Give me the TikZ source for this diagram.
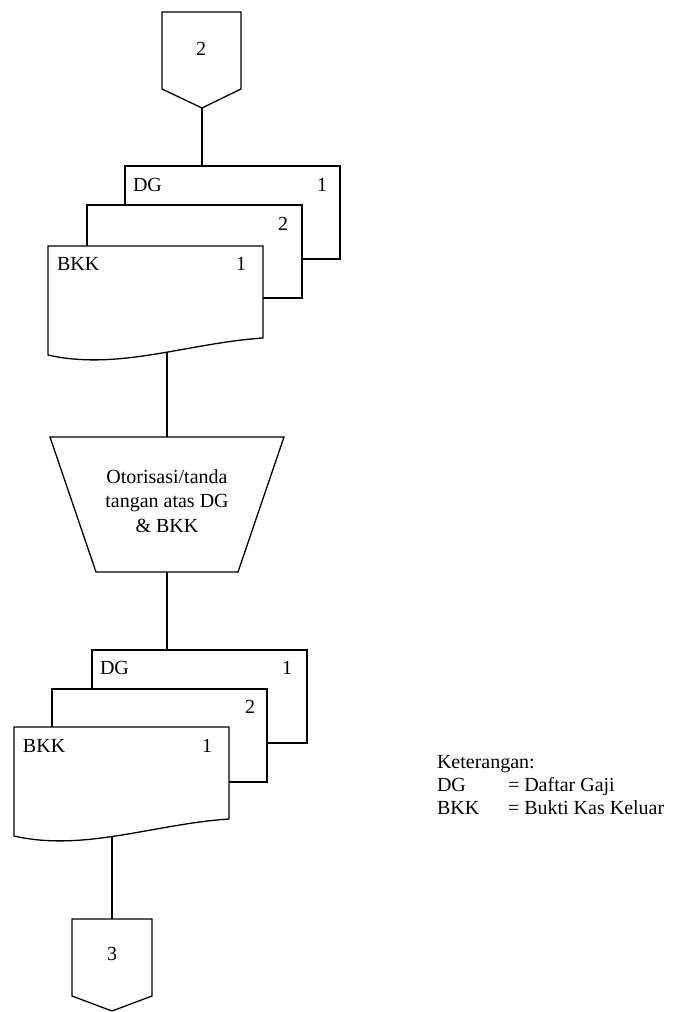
\documentclass[tikz,border=0pt]{standalone}
\usepackage{fontspec}
\setmainfont{Liberation Serif}

% a plain sheet (partly hidden behind the one in front)
\newcommand\plainsheet[2]{%
  \begin{scope}[shift={(#1,#2)}]
    \draw[outline] (0,0) rectangle (215,93);
  \end{scope}}
% the front sheet, with the wavy lower edge of a document symbol
\newcommand\frontsheet[2]{%
  \begin{scope}[shift={(#1,#2)}]
    \draw[outline] (0,0) -- (215,0) -- (215,92)
      .. controls (140,97) and (70,125) .. (0,109) -- cycle;
  \end{scope}}

\begin{document}
\begin{tikzpicture}[x=1pt,y=-1pt,
  outline/.style={line width=1.3pt, line join=miter, fill=white},
  link/.style={line width=1.1pt},
  txt/.style={font=\fontsize{20}{24.5}\selectfont, inner sep=0pt, outer sep=0pt},
  num/.style={txt, anchor=mid},
  word/.style={txt, anchor=mid west},
]
\useasboundingbox (0,0) rectangle (683,1012);

% connection points
\coordinate (c2-tip)   at (202,108);
\coordinate (s1-top)   at (202,166);
\coordinate (s1-out)   at (167,340);
\coordinate (auth-top) at (167,437);
\coordinate (auth-bot) at (167,572);
\coordinate (s2-top)   at (167,650);
\coordinate (s2-out)   at (112,820);
\coordinate (c3-top)   at (112,919);

% flow lines (drawn first, the filled symbols cover their ends)
\draw[link] (c2-tip) -- (s1-top);
\draw[link] (s1-out) -- (auth-top);
\draw[link] (auth-bot) -- (s2-top);
\draw[link] (s2-out) -- (c3-top);

% off-page connector 2
\draw[outline] (162,12) -- (241,12) -- (241,89) -- (c2-tip) -- (162,89) -- cycle;
\node[num] (c2) at (201,53) {2};

% first document stack: DG 1, copy 2, BKK 1
\plainsheet{125}{166}
\plainsheet{87}{205}
\frontsheet{48}{246}
\node[word] (dg1)   at (133,189) {DG};
\node[num]  (dg1n)  at (322,189) {1};
\node[num]  (cp1n)  at (283,228) {2};
\node[word] (bkk1)  at (57,268)  {BKK};
\node[num]  (bkk1n) at (241,268) {1};

% manual operation
\draw[outline] (50,437) -- (284,437) -- (238,572) -- (96,572) -- cycle;
\node[txt, align=center] (auth) at (167,501)
  {Otorisasi/tanda\\tangan atas DG\\\& BKK};

% second document stack
\plainsheet{92}{650}
\plainsheet{52}{689}
\frontsheet{14}{727}
\node[word] (dg2)   at (100,672) {DG};
\node[num]  (dg2n)  at (287,672) {1};
\node[num]  (cp2n)  at (250,711) {2};
\node[word] (bkk2)  at (23,750)  {BKK};
\node[num]  (bkk2n) at (207,750) {1};

% off-page connector 3
\draw[outline] (c3-top) -- (152,919) -- (152,996) -- (112,1011) -- (72,996) -- (72,919) -- cycle;
\node[num] (c3) at (112,958) {3};

% legend
\node[word] (key) at (437,766) {Keterangan:};
\node[word] (k1)  at (437,789) {DG};
\node[word] (k1d) at (508,789) {= Daftar Gaji};
\node[word] (k2)  at (437,812) {BKK};
\node[word] (k2d) at (508,812) {= Bukti Kas Keluar};
\end{tikzpicture}
\end{document}
